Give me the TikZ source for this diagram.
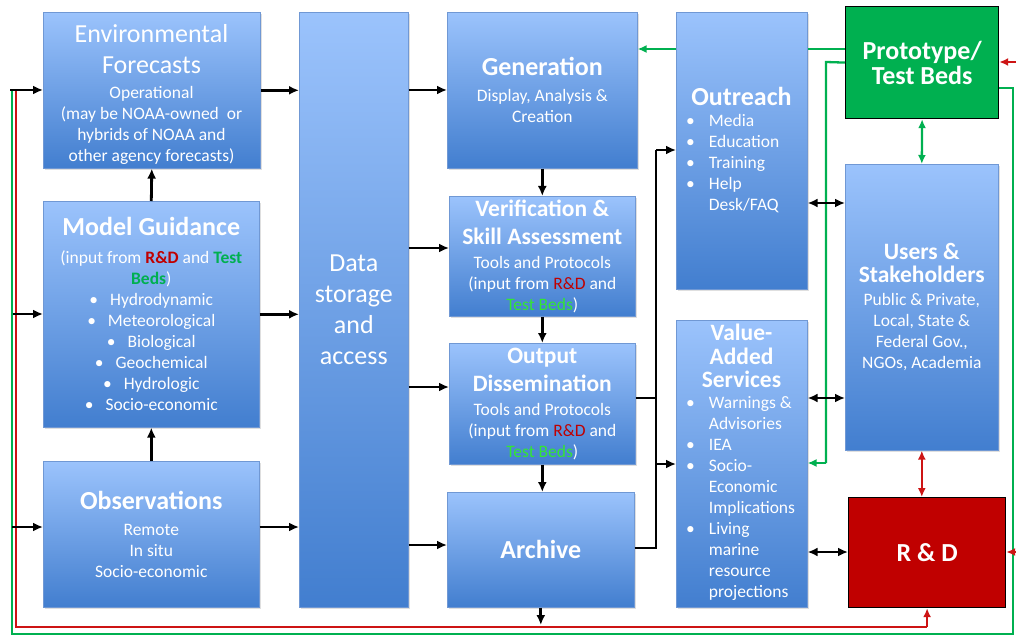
\documentclass[tikz,border=0pt]{standalone}
\usepackage{fontspec}
\setmainfont{Carlito}
\usetikzlibrary{arrows.meta,shadows}
\definecolor{boxtop}{RGB}{155,195,252}
\definecolor{boxbot}{RGB}{66,126,207}
\definecolor{boxedge}{RGB}{112,152,212}
\definecolor{rdred}{RGB}{192,0,0}
\definecolor{tbgreen}{RGB}{0,176,80}
\definecolor{tbbright}{RGB}{51,230,51}
\definecolor{lnred}{RGB}{205,20,20}
\definecolor{lngreen}{RGB}{0,176,80}
\newcommand\mytitle{\fontsize{26}{31}\selectfont}
\newcommand\mysub{\fontsize{23.5}{28}\selectfont}
\newcommand\mybody{\fontsize{17.5}{21}\selectfont}
\newcommand\bul{\textbullet\hspace{12pt}}
\tikzset{
  box/.style={draw=boxedge, line width=0.6pt, top color=boxtop, bottom color=boxbot,
    text=white, align=center, inner sep=0pt, anchor=north west, font=\mybody,
    drop shadow={opacity=0.25, shadow xshift=1.5pt, shadow yshift=-1.5pt}},
  solidbox/.style={draw=black, line width=1.2pt, text=white, align=center,
    inner sep=0pt, anchor=north west, font=\mytitle\bfseries},
  txt/.style={text=white, inner sep=0pt, font=\mybody},
  blk/.style={line width=2.8pt, black},
  arr/.style={blk, -{Latex[length=10pt,width=9pt]}},
  darr/.style={blk, {Latex[length=10pt,width=9pt]}-{Latex[length=10pt,width=9pt]}},
  gline/.style={draw=lngreen, line width=2.3pt},
  rline/.style={draw=lnred, line width=2.3pt},
  carr/.style={-{Latex[length=9pt,width=8pt]}},
  cdarr/.style={{Latex[length=9pt,width=8pt]}-{Latex[length=9pt,width=8pt]}},
}
\begin{document}
\begin{tikzpicture}[x=1pt,y=-1pt]
\useasboundingbox[fill=white] (0,0) rectangle (1016,636);

% ---------- coordinates for the feedback lines ----------
\coordinate (Ltop) at (10,90);
\coordinate (Lmg) at (13,314);
\coordinate (Lobs) at (12,527);
\coordinate (Rb) at (16,627);
\coordinate (Gb) at (12,634);
\coordinate (Gr) at (1013,634);
\coordinate (Gt) at (1013,88);
\coordinate (Rin1) at (1016,62);
\coordinate (Rin2) at (1016,552);
\coordinate (Gv) at (826,62);
\coordinate (Gva) at (826,463);
\coordinate (Ggen) at (845,49);

% ---------- boxes ----------
\node[box, minimum width=217pt, minimum height=156pt] (env) at (43,12) {};
\node[txt, align=center] (envt) at (151.5,94)
  {{\mytitle Environmental}\\[10pt]{\mytitle Forecasts}\\[4pt]Operational\\(may be NOAA-owned\ \ or\\hybrids of NOAA and\\other agency forecasts)};
\node[box, minimum width=216pt, minimum height=226pt] (mg) at (43,201)
  {{\mytitle\bfseries Model Guidance}\\[7pt](input from {\bfseries\color{rdred}R\&D} and {\bfseries\color{tbgreen}Test}\\{\bfseries\color{tbgreen}Beds})\\\bul Hydrodynamic\\\bul Meteorological\\\bul Biological\\\bul Geochemical\\\bul Hydrologic\\\bul Socio-economic};
\node[box, minimum width=216pt, minimum height=146pt] (obs) at (43,461)
  {{\mytitle\bfseries Observations}\\[5pt]Remote\\In situ\\Socio-economic};
\node[box, minimum width=109pt, minimum height=595pt, font=\mytitle] (data) at (299,12)
  {Data\\storage\\and\\access};
\node[box, minimum width=190pt, minimum height=156pt] (gen) at (447,12)
  {{\mytitle\bfseries Generation}\\[5pt]Display, Analysis \&\\Creation};
\node[box, minimum width=186pt, minimum height=120pt] (ver) at (449,196)
  {{\mysub\bfseries Verification \&}\\[7pt]{\mysub\bfseries Skill Assessment}\\[3pt]Tools and Protocols\\(input from {\color{rdred}R\&D} and\\{\color{tbbright}Test Beds})};
\node[box, minimum width=186pt, minimum height=121pt] (outd) at (449,343)
  {{\mysub\bfseries Output}\\[7pt]{\mysub\bfseries Dissemination}\\[3pt]Tools and Protocols\\(input from {\color{rdred}R\&D} and\\{\color{tbbright}Test Beds})};
\node[box, minimum width=187pt, minimum height=115pt] (arch) at (447,492)
  {{\mytitle\bfseries Archive}};
\node[box, minimum width=131pt, minimum height=277pt] (outr) at (676,12) {};
\node[box, minimum width=131pt, minimum height=287pt] (va) at (676,320) {};
\node[box, minimum width=153pt, minimum height=286pt] (users) at (845,164)
  {{\mysub\bfseries Users \&}\\[2pt]{\mysub\bfseries Stakeholders}\\[2pt]Public \& Private,\\Local, State \&\\Federal Gov.,\\NGOs, Academia};
\node[solidbox, fill=tbgreen, minimum width=153pt, minimum height=112pt] (proto) at (845,6)
  {Prototype/\\[-6pt]Test Beds};
\node[solidbox, fill=rdred, minimum width=157pt, minimum height=110pt] (rd) at (848,497)
  {R \& D};

% text of Outreach and Value-Added
\node[txt, font=\mytitle\bfseries, anchor=base] (outrt) at (741.5,106) {Outreach};
\node[txt, anchor=north west] (outrb) at (686,112)
  {\begin{tabular}{@{}l@{\hspace{14pt}}l@{}}\textbullet&Media\\\textbullet&Education\\\textbullet&Training\\\textbullet&Help\\&Desk/FAQ\end{tabular}};
\node[txt, anchor=north, align=center] (vat) at (741.5,324)
  {{\mysub\bfseries Value-}\\[2.5pt]{\mysub\bfseries Added}\\[2.5pt]{\mysub\bfseries Services}};
\node[txt, anchor=north west] (vab) at (686,394)
  {\begin{tabular}{@{}l@{\hspace{14pt}}l@{}}\textbullet&Warnings \&\\&Advisories\\\textbullet&IEA\\\textbullet&Socio-\\&Economic\\&Implications\\\textbullet&Living\\&marine\\&resource\\&projections\end{tabular}};

% ---------- coloured lines ----------
\draw[rline] (16,90) -- (Rb) -- (Rb -| rd.south);
\draw[rline, carr] (Rb -| rd.south) -- (rd.south);
\draw[gline] (12,90) -- (Gb) -- (Gr) -- (Gt) -- (Gt -| proto.east);
\draw[rline, carr] (Rin1) -- (Rin1 -| proto.east);
\draw[rline, carr] (Rin2) -- (Rin2 -| rd.east);
\draw[gline] (Ggen) -- (Ggen -| outr.east);
\draw[gline, carr] (Ggen -| outr.west) -- (Ggen -| gen.east);
\draw[gline] (proto.west) -- (Gv) -- (Gva);
\draw[gline, carr] (Gva) -- (Gva -| va.east);
\draw[gline, cdarr] (proto.south) -- (users.north);
\draw[rline, cdarr] (users.south) -- (users.south |- rd.north);

% ---------- black arrows ----------
\draw[arr] (Ltop) -- (Ltop -| env.west);
\draw[arr] (Lmg) -- (Lmg -| mg.west);
\draw[arr] (Lobs) -- (Lobs -| obs.west);
\draw[arr] (env.east) -- (env.east -| data.west);
\draw[arr] (mg.east) -- (mg.east -| data.west);
\coordinate (o1) at (0,527);
\draw[arr] (o1 -| obs.east) -- (o1 -| data.west);
\draw[arr] (mg.north) -- (env.south);
\draw[arr] (obs.north) -- (mg.south);
\coordinate (d1) at (0,90);
\coordinate (d2) at (0,248);
\coordinate (d3) at (0,387);
\coordinate (d4) at (0,545);
\draw[arr] (d1 -| data.east) -- (d1 -| gen.west);
\draw[arr] (d2 -| data.east) -- (d2 -| ver.west);
\draw[arr] (d3 -| data.east) -- (d3 -| outd.west);
\draw[arr] (d4 -| data.east) -- (d4 -| arch.west);
\draw[arr] (gen.south) -- (ver.north);
\draw[arr] (ver.south) -- (outd.north);
\draw[arr] (outd.south) -- (outd.south |- arch.north);
\draw[arr] (arch.south) -- (arch.south |- 0,625);
\coordinate (bt) at (656,150);
\coordinate (bm) at (656,398);
\coordinate (bv) at (656,464);
\coordinate (bb) at (656,548);
\draw[blk] (bb -| arch.east) -- (bb) -- (bt);
\draw[blk] (bm -| outd.east) -- (bm);
\draw[arr] (bt) -- (bt -| outr.west);
\draw[arr] (bv) -- (bv -| va.west);
\coordinate (h1) at (0,203);
\coordinate (h2) at (0,398);
\coordinate (h3) at (0,552);
\draw[darr] (h1 -| outr.east) -- (h1 -| users.west);
\draw[darr] (h2 -| va.east) -- (h2 -| users.west);
\draw[darr] (h3 -| va.east) -- (h3 -| rd.west);
\end{tikzpicture}
\end{document}
